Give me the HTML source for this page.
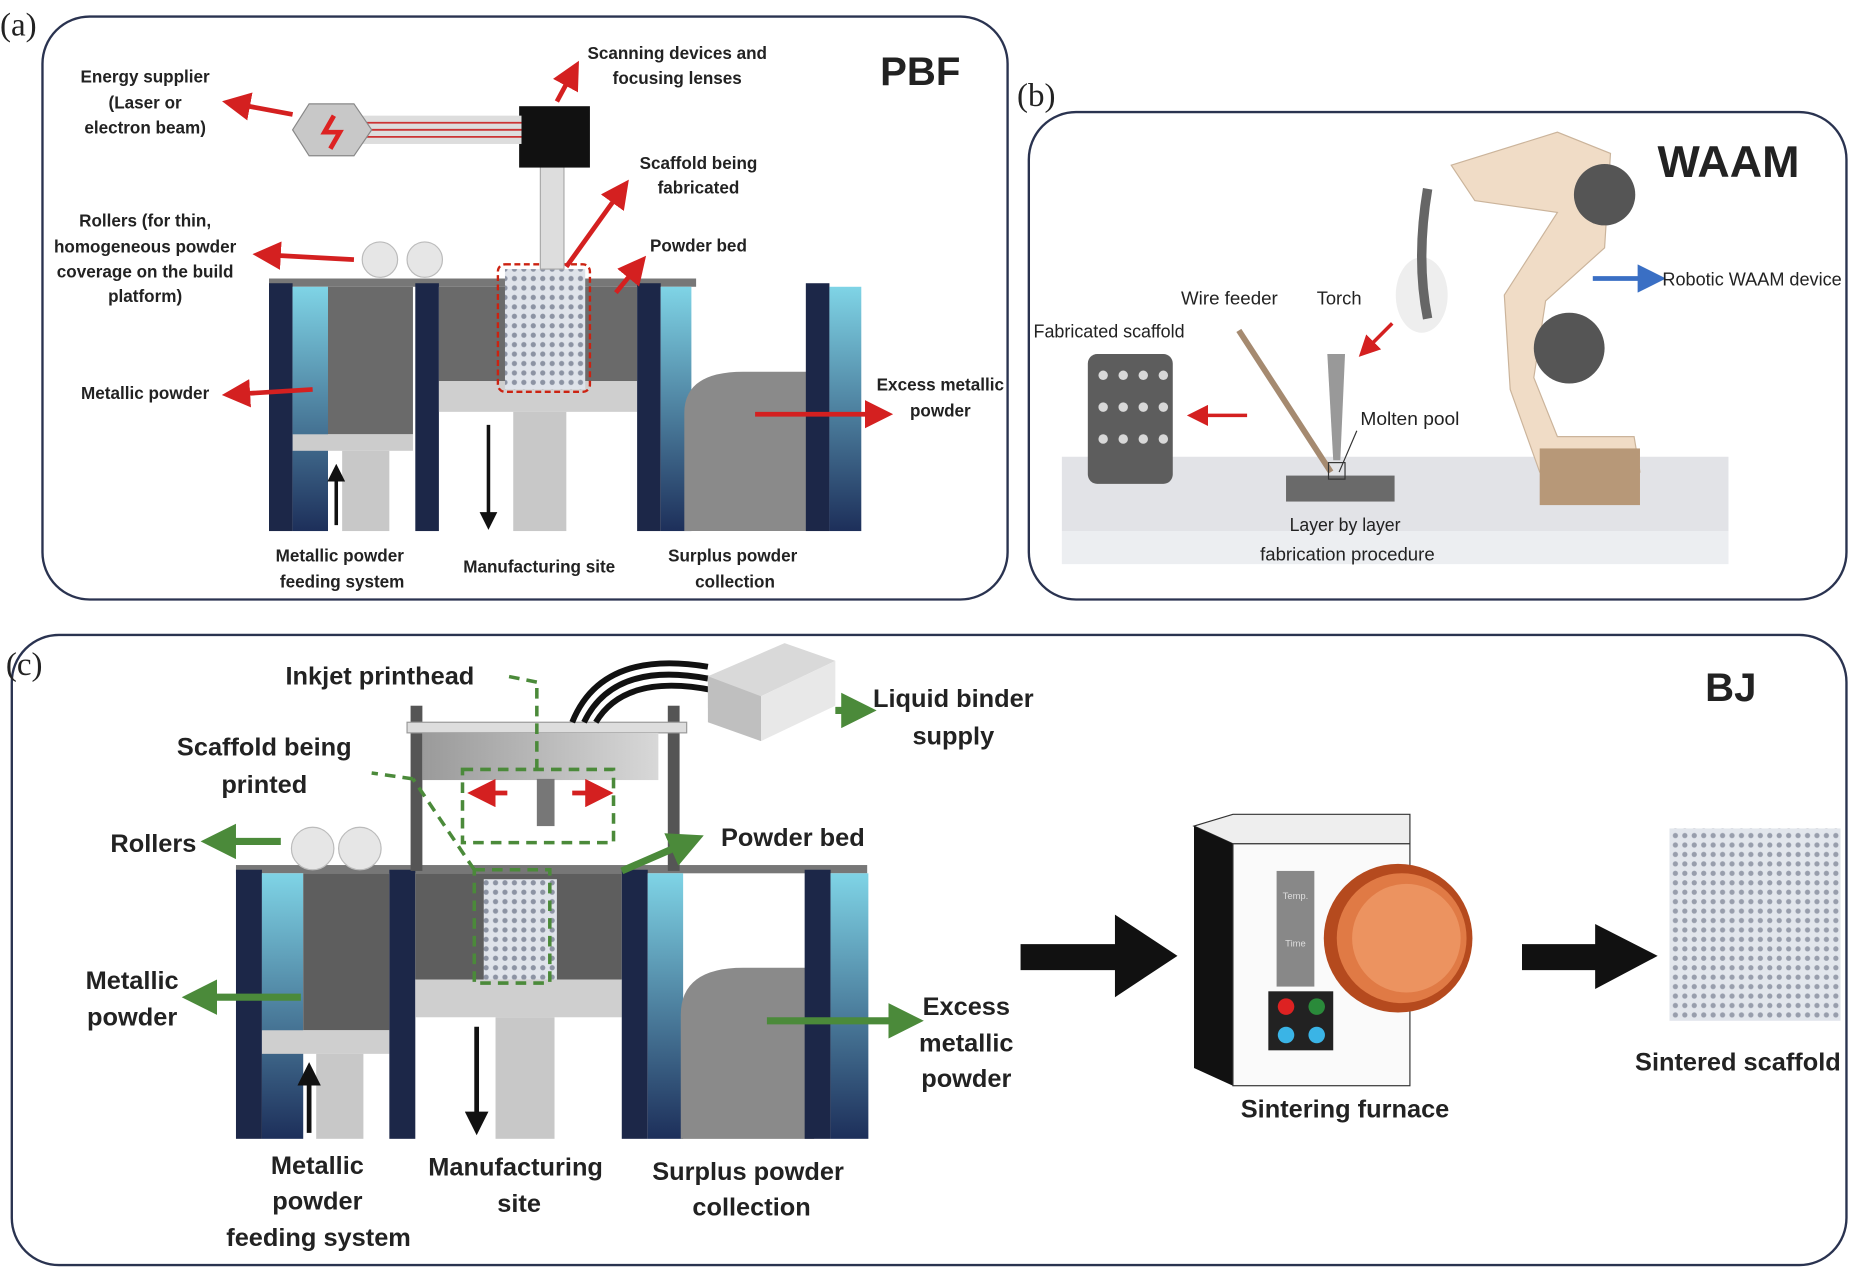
<!DOCTYPE html>
<html><head><meta charset="utf-8"><style>
html,body{margin:0;padding:0;background:#fff;}
svg{display:block;}
.t{font-family:"Liberation Sans",sans-serif;font-weight:bold;fill:#222;text-anchor:middle;}
.n{font-family:"Liberation Sans",sans-serif;fill:#222;text-anchor:middle;}
</style></head><body>
<svg width="1850" height="1271" viewBox="0 0 1568 1077" preserveAspectRatio="none" xmlns="http://www.w3.org/2000/svg">
<defs>
<linearGradient id="cy" x1="0" y1="0" x2="0" y2="1"><stop offset="0" stop-color="#7fd4e6"/><stop offset="1" stop-color="#1d2f5a"/></linearGradient>
<linearGradient id="gr" x1="0" y1="0" x2="1" y2="0"><stop offset="0" stop-color="#9a9a9a"/><stop offset="1" stop-color="#d8d8d8"/></linearGradient>
<pattern id="mesh" width="8" height="8" patternUnits="userSpaceOnUse"><rect width="8" height="8" fill="#dfe3ea"/><circle cx="4" cy="4" r="2.2" fill="#8c93a3"/></pattern>
<marker id="ar" markerWidth="6" markerHeight="6" refX="3" refY="3" orient="auto"><path d="M0,0L6,3L0,6z" fill="#d42020"/></marker>
<marker id="ag" markerWidth="5" markerHeight="5" refX="2" refY="2.5" orient="auto"><path d="M0,0L5,2.5L0,5z" fill="#4b8a3a"/></marker>
<marker id="ab" markerWidth="6" markerHeight="6" refX="3" refY="3" orient="auto"><path d="M0,0L6,3L0,6z" fill="#3a6fc4"/></marker>
<marker id="ak" markerWidth="5" markerHeight="5" refX="2" refY="2.5" orient="auto"><path d="M0,0L5,2.5L0,5z" fill="#111"/></marker>
</defs>

<rect x="36" y="14" width="818" height="494" rx="40" fill="#fff" stroke="#2a3350" stroke-width="2"/>
<rect x="872" y="95" width="693" height="413" rx="40" fill="#fff" stroke="#2a3350" stroke-width="2"/>
<rect x="10" y="538" width="1555" height="534" rx="40" fill="#fff" stroke="#2a3350" stroke-width="2"/>
<text x="0" y="30" font-family="Liberation Serif" font-size="28" fill="#222">(a)</text>
<text x="862" y="90" font-family="Liberation Serif" font-size="28" fill="#222">(b)</text>
<text x="5" y="572" font-family="Liberation Serif" font-size="28" fill="#222">(c)</text>
<text x="780" y="72" class="t" font-size="34">PBF</text>
<text x="1465" y="150" class="t" font-size="38">WAAM</text>
<text x="1467" y="594" class="t" font-size="34">BJ</text>

<g>
<rect x="228" y="236" width="362" height="7" fill="#777"/>
<rect x="228" y="240" width="20" height="210" fill="#1c2748"/>
<rect x="248" y="243" width="30" height="207" fill="url(#cy)"/>
<rect x="278" y="243" width="72" height="125" fill="#6a6a6a"/>
<rect x="248" y="368" width="102" height="14" fill="#ccc"/>
<rect x="290" y="382" width="40" height="68" fill="#c8c8c8"/>
<rect x="352" y="240" width="20" height="210" fill="#1c2748"/>
<rect x="372" y="243" width="168" height="80" fill="#6a6a6a"/>
<rect x="372" y="323" width="168" height="26" fill="#cfcfcf"/>
<rect x="435" y="349" width="45" height="101" fill="#c8c8c8"/>
<rect x="428" y="228" width="68" height="102" fill="url(#mesh)"/>
<rect x="422" y="224" width="78" height="108" rx="6" fill="none" stroke="#c21" stroke-width="2" stroke-dasharray="5,3"/>
<rect x="540" y="240" width="20" height="210" fill="#1c2748"/>
<rect x="560" y="243" width="26" height="207" fill="url(#cy)"/>
<path d="M580,450 L580,350 Q580,315 630,315 L690,315 L690,450z" fill="#8a8a8a"/>
<rect x="683" y="240" width="20" height="210" fill="#1c2748"/>
<rect x="703" y="243" width="27" height="207" fill="url(#cy)"/>
<circle cx="322" cy="220" r="15" fill="#e6e6e6" stroke="#bbb"/><circle cx="360" cy="220" r="15" fill="#e6e6e6" stroke="#bbb"/>
<rect x="458" y="140" width="20" height="88" fill="#ddd" stroke="#aaa"/>
<rect x="440" y="90" width="60" height="52" fill="#111"/>
<rect x="300" y="98" width="142" height="24" fill="#ddd"/>
<line x1="300" y1="104" x2="442" y2="104" stroke="#c33" stroke-width="1.5"/><line x1="300" y1="110" x2="442" y2="110" stroke="#c33" stroke-width="1.5"/><line x1="300" y1="116" x2="442" y2="116" stroke="#c33" stroke-width="1.5"/>
<path d="M262,88 L300,88 L315,110 L300,132 L262,132 L248,110z" fill="#c8c8c8" stroke="#888"/>
<path d="M283,98 L275,112 L288,112 L280,126" fill="none" stroke="#d22" stroke-width="4"/>
<line x1="285" y1="445" x2="285" y2="402" stroke="#111" stroke-width="3" marker-end="url(#ak)"/>
<line x1="414" y1="360" x2="414" y2="440" stroke="#111" stroke-width="3" marker-end="url(#ak)"/>
</g>
<g stroke="#d42020" stroke-width="4" fill="none">
<line x1="248" y1="97" x2="200" y2="88" marker-end="url(#ar)"/>
<line x1="472" y1="86" x2="485" y2="62" marker-end="url(#ar)"/>
<line x1="480" y1="226" x2="526" y2="162" marker-end="url(#ar)"/>
<line x1="522" y1="248" x2="540" y2="226" marker-end="url(#ar)"/>
<line x1="300" y1="220" x2="226" y2="216" marker-end="url(#ar)"/>
<line x1="265" y1="330" x2="200" y2="334" marker-end="url(#ar)"/>
<line x1="640" y1="351" x2="745" y2="351" marker-end="url(#ar)"/>
</g>
<g class="t" font-size="14.5">
<text x="123" y="70">Energy supplier</text><text x="123" y="92">(Laser or</text><text x="123" y="113">electron beam)</text>
<text x="574" y="50">Scanning devices and</text><text x="574" y="71">focusing lenses</text>
<text x="592" y="143">Scaffold being</text><text x="592" y="164">fabricated</text>
<text x="592" y="213">Powder bed</text>
<text x="123" y="192">Rollers (for thin,</text><text x="123" y="214">homogeneous powder</text><text x="123" y="235">coverage on the build</text><text x="123" y="256">platform)</text>
<text x="123" y="338">Metallic powder</text>
<text x="797" y="331">Excess metallic</text><text x="797" y="353">powder</text>
<text x="288" y="476">Metallic powder</text><text x="290" y="498">feeding system</text>
<text x="457" y="485">Manufacturing site</text>
<text x="621" y="476">Surplus powder</text><text x="623" y="498">collection</text>
</g>

<!-- WAAM -->
<path d="M900,387 L1465,387 L1465,450 L900,450z" fill="#e2e3e7"/>
<path d="M900,450 L1465,450 L1465,478 L900,478z" fill="#eceef1"/>
<rect x="922" y="300" width="72" height="110" rx="8" fill="#5d5d5d"/>
<g fill="#d8d8d8"><circle cx="935" cy="318" r="4"/><circle cx="952" cy="318" r="4"/><circle cx="969" cy="318" r="4"/><circle cx="986" cy="318" r="4"/><circle cx="935" cy="345" r="4"/><circle cx="952" cy="345" r="4"/><circle cx="969" cy="345" r="4"/><circle cx="986" cy="345" r="4"/><circle cx="935" cy="372" r="4"/><circle cx="952" cy="372" r="4"/><circle cx="969" cy="372" r="4"/><circle cx="986" cy="372" r="4"/></g>
<rect x="1090" y="403" width="92" height="22" fill="#6a6a6a"/>
<line x1="1050" y1="280" x2="1128" y2="400" stroke="#a58a70" stroke-width="5"/>
<path d="M1125,300 L1140,300 L1136,390 L1130,390z" fill="#999"/>
<rect x="1126" y="392" width="14" height="14" fill="none" stroke="#333"/>
<ellipse cx="1205" cy="250" rx="22" ry="32" fill="#eee"/>
<path d="M1210,160 Q1200,220 1210,270" stroke="#666" stroke-width="8" fill="none"/>
<path d="M1230,140 L1320,112 L1365,130 L1360,210 L1310,255 L1300,320 L1320,370 L1385,370 L1390,400 L1305,400 L1280,330 L1275,250 L1320,180 L1250,170z" fill="#f0dcc6" stroke="#cbb49b"/>
<rect x="1305" y="380" width="85" height="48" fill="#b79878"/>
<circle cx="1360" cy="165" r="26" fill="#555"/>
<circle cx="1330" cy="295" r="30" fill="#555"/>
<line x1="1350" y1="236" x2="1400" y2="236" stroke="#3a6fc4" stroke-width="4" marker-end="url(#ab)"/>
<line x1="1057" y1="352" x2="1015" y2="352" stroke="#d42020" stroke-width="3" marker-end="url(#ar)"/>
<line x1="1180" y1="274" x2="1158" y2="296" stroke="#d42020" stroke-width="3" marker-end="url(#ar)"/>
<line x1="1150" y1="365" x2="1135" y2="400" stroke="#333" stroke-width="1"/>
<g class="n" font-size="16">
<text x="1485" y="242" textLength="152" lengthAdjust="spacingAndGlyphs">Robotic WAAM device</text>
<text x="1042" y="258" textLength="82" lengthAdjust="spacingAndGlyphs">Wire feeder</text><text x="1135" y="258" textLength="38" lengthAdjust="spacingAndGlyphs">Torch</text>
<text x="940" y="286" textLength="128" lengthAdjust="spacingAndGlyphs">Fabricated scaffold</text>
<text x="1195" y="360" textLength="84" lengthAdjust="spacingAndGlyphs">Molten pool</text>
<text x="1140" y="450" textLength="94" lengthAdjust="spacingAndGlyphs">Layer by layer</text><text x="1142" y="475" textLength="148" lengthAdjust="spacingAndGlyphs">fabrication procedure</text>
</g>

<!-- BJ machine -->
<g>
<rect x="200" y="733" width="535" height="7" fill="#777"/>
<rect x="200" y="737" width="22" height="228" fill="#1c2748"/>
<rect x="222" y="740" width="35" height="225" fill="url(#cy)"/>
<rect x="257" y="740" width="73" height="133" fill="#5e5e5e"/>
<rect x="222" y="873" width="108" height="20" fill="#cfcfcf"/>
<rect x="268" y="893" width="40" height="72" fill="#c8c8c8"/>
<rect x="330" y="737" width="22" height="228" fill="#1c2748"/>
<rect x="352" y="740" width="175" height="90" fill="#5e5e5e"/>
<rect x="352" y="830" width="175" height="32" fill="#cfcfcf"/>
<rect x="420" y="862" width="50" height="103" fill="#c8c8c8"/>
<rect x="410" y="745" width="62" height="85" fill="url(#mesh)"/>
<rect x="527" y="737" width="22" height="228" fill="#1c2748"/>
<rect x="549" y="740" width="30" height="225" fill="url(#cy)"/>
<path d="M577,965 L577,860 Q577,820 630,820 L690,820 L690,965z" fill="#8a8a8a"/>
<rect x="682" y="737" width="22" height="228" fill="#1c2748"/>
<rect x="704" y="740" width="32" height="225" fill="url(#cy)"/>
<circle cx="265" cy="719" r="18" fill="#e6e6e6" stroke="#bbb"/><circle cx="305" cy="719" r="18" fill="#e6e6e6" stroke="#bbb"/>
<rect x="348" y="598" width="10" height="140" fill="#555"/><rect x="566" y="598" width="10" height="140" fill="#555"/>
<rect x="345" y="612" width="237" height="9" fill="#ddd" stroke="#999"/>
<rect x="358" y="621" width="200" height="40" fill="url(#gr)"/>
<rect x="455" y="660" width="15" height="40" fill="#777"/>
<path d="M495,612 Q520,560 600,575 M505,612 Q530,570 605,585 M485,612 Q510,550 600,565" stroke="#111" stroke-width="5" fill="none"/>
<path d="M600,573 L665,545 L708,560 L645,590 L600,600z" fill="#d9d9d9"/><path d="M600,573 L645,590 L645,628 L600,612z" fill="#bfbfbf"/><path d="M645,590 L708,560 L708,598 L645,628z" fill="#e8e8e8"/>
<line x1="430" y1="672" x2="408" y2="672" stroke="#d42020" stroke-width="4" marker-end="url(#ar)"/>
<line x1="485" y1="672" x2="508" y2="672" stroke="#d42020" stroke-width="4" marker-end="url(#ar)"/>
<g fill="none" stroke="#4b8a3a" stroke-width="3" stroke-dasharray="9,6">
<rect x="392" y="652" width="128" height="62"/>
<rect x="402" y="737" width="64" height="96"/>
<line x1="455" y1="652" x2="455" y2="578"/><line x1="455" y1="578" x2="430" y2="573"/>
<line x1="402" y1="737" x2="350" y2="660"/><line x1="350" y1="660" x2="315" y2="655"/>
</g>
<line x1="262" y1="960" x2="262" y2="912" stroke="#111" stroke-width="4" marker-end="url(#ak)"/>
<line x1="404" y1="870" x2="404" y2="950" stroke="#111" stroke-width="4" marker-end="url(#ak)"/>
</g>
<g stroke="#4b8a3a" stroke-width="6" fill="none">
<line x1="708" y1="602" x2="725" y2="602" marker-end="url(#ag)"/>
<line x1="238" y1="713" x2="188" y2="713" marker-end="url(#ag)"/>
<line x1="527" y1="738" x2="580" y2="715" marker-end="url(#ag)"/>
<line x1="255" y1="845" x2="172" y2="845" marker-end="url(#ag)"/>
<line x1="650" y1="865" x2="765" y2="865" marker-end="url(#ag)"/>
</g>
<g class="t" font-size="21.5">
<text x="322" y="580">Inkjet printhead</text>
<text x="808" y="599">Liquid binder</text><text x="808" y="631">supply</text>
<text x="224" y="640">Scaffold being</text><text x="224" y="672">printed</text>
<text x="130" y="722">Rollers</text>
<text x="672" y="717">Powder bed</text>
<text x="112" y="838">Metallic</text><text x="112" y="869">powder</text>
<text x="819" y="860">Excess</text><text x="819" y="891">metallic</text><text x="819" y="921">powder</text>
<text x="269" y="995">Metallic</text><text x="269" y="1025">powder</text><text x="270" y="1056">feeding system</text>
<text x="437" y="996">Manufacturing</text><text x="440" y="1027">site</text>
<text x="634" y="1000">Surplus powder</text><text x="637" y="1030">collection</text>
<text x="1140" y="947">Sintering furnace</text>
<text x="1473" y="907">Sintered scaffold</text>
</g>

<polygon points="865,800 945,800 945,775 998,810 945,845 945,822 865,822" fill="#111"/>
<polygon points="1290,800 1352,800 1352,783 1405,810 1352,838 1352,822 1290,822" fill="#111"/>
<path d="M1012,700 L1045,690 L1195,690 L1195,715 L1045,715z" fill="#eee" stroke="#333"/>
<path d="M1012,700 L1045,715 L1045,920 L1012,905z" fill="#111"/>
<rect x="1045" y="715" width="150" height="205" fill="#fafafa" stroke="#333"/>
<rect x="1082" y="738" width="32" height="98" fill="#888"/>
<text x="1098" y="762" font-family="Liberation Sans" font-size="8" fill="#ddd" text-anchor="middle">Temp.</text>
<text x="1098" y="802" font-family="Liberation Sans" font-size="8" fill="#ddd" text-anchor="middle">Time</text>
<rect x="1075" y="840" width="55" height="50" fill="#222"/>
<circle cx="1090" cy="853" r="7" fill="#d22"/><circle cx="1116" cy="853" r="7" fill="#2a8a3a"/>
<circle cx="1090" cy="877" r="7" fill="#3ab4e6"/><circle cx="1116" cy="877" r="7" fill="#3ab4e6"/>
<circle cx="1185" cy="795" r="63" fill="#b54a1e"/><circle cx="1188" cy="795" r="55" fill="#e07a45"/><circle cx="1192" cy="795" r="46" fill="#ec9360"/>
<rect x="1415" y="702" width="145" height="163" fill="url(#mesh)" opacity="0.9"/>
</svg>
</body></html>
